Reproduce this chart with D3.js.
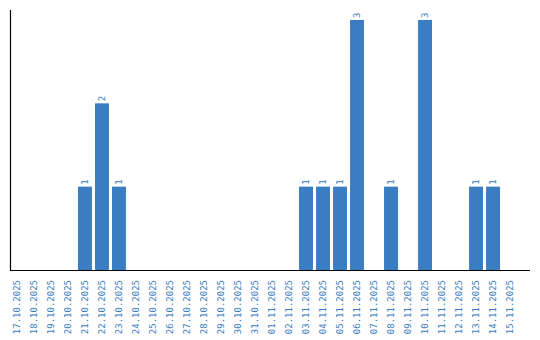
<!DOCTYPE html>
<html>
<head>
<meta charset="utf-8">
<script src="https://cdn.jsdelivr.net/npm/d3@7/dist/d3.min.js"></script>
<style>
  body { margin: 0; background: #fff; }
  text { font-family: "DejaVu Sans Mono", monospace; font-size: 9px; fill: #3b7dc2; }
</style>
</head>
<body>
<div id="chart"></div>
<script>
var dates = ["17.10.2025","18.10.2025","19.10.2025","20.10.2025","21.10.2025","22.10.2025",
  "23.10.2025","24.10.2025","25.10.2025","26.10.2025","27.10.2025","28.10.2025","29.10.2025",
  "30.10.2025","31.10.2025","01.11.2025","02.11.2025","03.11.2025","04.11.2025","05.11.2025",
  "06.11.2025","07.11.2025","08.11.2025","09.11.2025","10.11.2025","11.11.2025","12.11.2025",
  "13.11.2025","14.11.2025","15.11.2025"];
var counts = [0,0,0,0,1,2,1,0,0,0,0,0,0,0,0,0,0,1,1,1,3,0,1,0,3,0,0,1,1,0];

var width = 540, height = 340;
var svg = d3.select("#chart").append("svg").attr("width", width).attr("height", height);

// x as band, y linear with baseline at 270
var x = d3.scaleBand().domain(dates).range([10, 517]).paddingInner(0.18).paddingOuter(0).align(0);
var y = d3.scaleLinear().domain([0, d3.max(counts)]).range([270, 20]);

var data = dates.map(function(d, i) { return {k: d, v: counts[i]}; });

svg.selectAll(".bar").data(data.filter(function(d) { return d.v > 0; })).enter()
    .append("rect")
    .attr("class", "bar")
    .attr("x", function(d) { return x(d.k); })
    .attr("y", function(d) { return y(d.v); })
    .attr("width", x.bandwidth())
    .attr("height", function(d) { return y(0) - y(d.v); })
    .attr("fill", "#3b7dc2");

// value labels above bars
svg.selectAll(".val").data(data.filter(function(d) { return d.v > 0; })).enter()
    .append("text")
    .attr("class", "val")
    .attr("transform", function(d) {
        return "translate(" + (x(d.k) + x.bandwidth() / 2 + 3) + "," + (y(d.v) - 2) + ") rotate(-90)";
    })
    .attr("text-anchor", "start")
    .text(function(d) { return d.v; });

// axes lines
svg.append("line").attr("x1", 10.5).attr("x2", 10.5).attr("y1", 10).attr("y2", 270.5)
    .attr("stroke", "#000").attr("stroke-width", 1.2);
svg.append("line").attr("x1", 10).attr("x2", 530).attr("y1", 270.5).attr("y2", 270.5)
    .attr("stroke", "#000").attr("stroke-width", 1.2);

// category labels
svg.selectAll(".lab").data(dates).enter()
    .append("text")
    .attr("class", "lab")
    .attr("transform", function(d) {
        return "translate(" + (x(d) + x.bandwidth() / 2 + 3) + ",280) rotate(-90)";
    })
    .attr("text-anchor", "end")
    .text(function(d) { return d; });
</script>
</body>
</html>
